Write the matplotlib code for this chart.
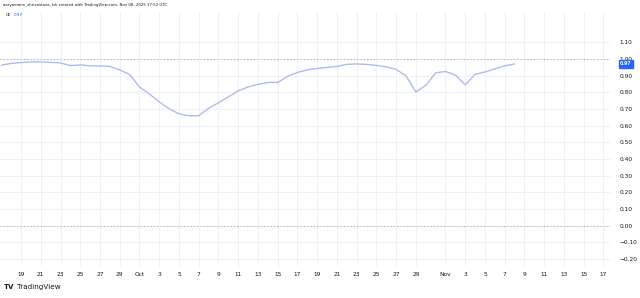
import matplotlib
matplotlib.use("Agg")
import matplotlib.pyplot as plt
import matplotlib.dates as mdates
import pandas as pd

# ---- data ----
start_date = "2025-09-17"
values = [0.962, 0.973, 0.978, 0.982, 0.982, 0.979, 0.976, 0.960, 0.964, 0.958,
          0.958, 0.955, 0.934, 0.907, 0.832, 0.790, 0.743, 0.701, 0.671, 0.659,
          0.659, 0.704, 0.737, 0.772, 0.808, 0.832, 0.847, 0.859, 0.859, 0.895,
          0.919, 0.934, 0.943, 0.949, 0.955, 0.967, 0.970, 0.967, 0.961, 0.952,
          0.937, 0.898, 0.802, 0.841, 0.916, 0.925, 0.904, 0.844, 0.907, 0.922,
          0.940, 0.958, 0.970]
dates = pd.date_range(start_date, periods=len(values), freq="D")

y_ticks = [1.10, 1.00, 0.90, 0.80, 0.70, 0.60, 0.50, 0.40, 0.30, 0.20, 0.10, 0.00, -0.10, -0.20]
x_tick_dates = (list(pd.date_range("2025-09-19", "2025-09-29", freq="2D"))
                + list(pd.date_range("2025-10-01", "2025-10-29", freq="2D"))
                + list(pd.date_range("2025-11-01", "2025-11-17", freq="2D"))
                + [pd.Timestamp("2025-11-03")])
x_tick_dates = sorted(set(x_tick_dates))
header = "aaryamann_shrivastava_tsk created with TradingView.com, Nov 08, 2025 17:52 UTC"
series_name = "CE"
last_label = "0.97"

W, H = 640, 298
fig = plt.figure(figsize=(W / 100, H / 100), dpi=100)
fig.patch.set_facecolor("white")

left_px, right_px, top_px, bot_px = 0, 610, 12, 266
ax = fig.add_axes([left_px / W, (H - bot_px) / H, (right_px - left_px) / W, (bot_px - top_px) / H])
ax.set_facecolor("white")

x0 = pd.Timestamp("2025-09-19")
ax.set_xlim(mdates.date2num(x0) - 2.13, mdates.date2num(x0) + 59.67)
ax.set_ylim(-0.241, 1.281)

grid_c = "#eef0f6"
tick_labels = [d.strftime("%b") if d.day == 1 else str(d.day) for d in x_tick_dates]
ax.set_xticks([mdates.date2num(d) for d in x_tick_dates])
ax.set_xticklabels(tick_labels)
ax.set_yticks(y_ticks)
ax.set_yticklabels([("−%.2f" % abs(v)) if v < 0 else "%.2f" % v for v in y_ticks])
ax.yaxis.tick_right()
ax.grid(True, color=grid_c, linewidth=0.7)
ax.tick_params(axis="both", length=0, labelsize=4.2, colors="#131722")
ax.tick_params(axis="y", pad=7)
ax.tick_params(axis="x", pad=4)
for s in ax.spines.values():
    s.set_visible(False)

for lvl in (1.0, 0.0):
    ax.axhline(lvl, color="#a3a6af", linewidth=0.6, linestyle=(0, (1.5, 2.5)))

ax.plot(mdates.date2num(dates), values, color="#aebbf0", linewidth=1.0, solid_capstyle="round")

# last value label
ax.annotate(last_label, xy=(1.0, values[-1]), xycoords=("axes fraction", "data"),
            xytext=(7.2, 0), textcoords="offset points", ha="left", va="center",
            fontsize=3.3, color="white", fontweight="bold",
            bbox=dict(boxstyle="square,pad=0.25", fc="#2962ff", ec="#2962ff"),
            annotation_clip=False)

fig.text(3 / W, 1 - 5 / H, header, fontsize=2.75, color="#131722", va="center", ha="left")
fig.text(6 / W, 1 - 15 / H, series_name, fontsize=3.0, color="#131722", va="center", ha="left")
fig.text(14 / W, 1 - 15 / H, last_label, fontsize=3.0, color="#2962ff", va="center", ha="left")

# TradingView logo
fig.text(4 / W, 1 - 287 / H, "TV", fontsize=5.0, color="#131722", fontweight="heavy", va="center", ha="left")
fig.text(17 / W, 1 - 287 / H, "TradingView", fontsize=5.2, color="#131722", va="center", ha="left")

fig.savefig("out.png", dpi=100, facecolor="white")
